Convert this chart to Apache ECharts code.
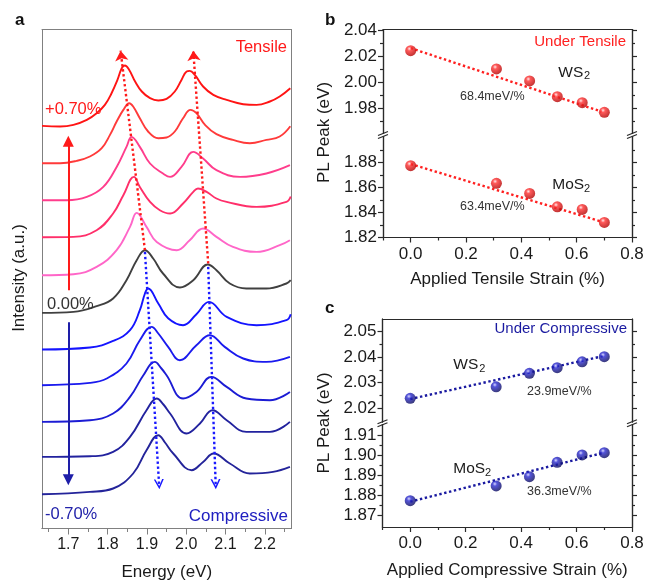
<!DOCTYPE html>
<html><head><meta charset="utf-8">
<script src="https://cdn.jsdelivr.net/npm/echarts@6/dist/echarts.min.js"></script>
<style>html,body{margin:0;padding:0;background:#fff}#c{width:647px;height:580px}</style>
</head><body><div id="c"></div>
<script>
// ---------- tick values ----------
const energyTickValues = [1.7, 1.8, 1.9, 2.0, 2.1, 2.2];
const energyMinorTickValues = [1.65, 1.75, 1.85, 1.95, 2.05, 2.15, 2.25];
const strainTickValues = [0, 0.2, 0.4, 0.6, 0.8];
const strainMinorTickValues = [-0.1, 0.1, 0.3, 0.5, 0.7];
const peakTicksBUpper = [1.98, 2.00, 2.02, 2.04];
const peakMinorBUpper = [1.97, 1.99, 2.01, 2.03];
const peakTicksBLower = [1.82, 1.84, 1.86, 1.88];
const peakMinorBLower = [1.83, 1.85, 1.87, 1.89];
const peakTicksCUpper = [2.02, 2.03, 2.04, 2.05];
const peakMinorCUpper = [2.025, 2.035, 2.045];
const peakTicksCLower = [1.87, 1.88, 1.89, 1.90, 1.91];
const peakMinorCLower = [1.875, 1.885, 1.895, 1.905];

// ---------- panel a: stacked PL spectra [energy (eV), intensity (a.u., offset)] ----------
const strainLabels = ['+0.70%', '+0.62%', '+0.53%', '+0.43%', '+0.31%', '0.00%', '-0.31%', '-0.43%', '-0.53%', '-0.62%', '-0.70%'];
const specP070 = [[1.633,402.6],[1.679,402],[1.713,403.6],[1.747,408.6],[1.772,415.3],[1.793,423.6],[1.810,435.3],[1.825,448.6],[1.836,460.3],[1.844,463],[1.855,458.6],[1.870,447],[1.887,437],[1.908,430.3],[1.929,428],[1.950,429.6],[1.971,437],[1.988,448.6],[2.001,457],[2.009,457.6],[2.022,453.6],[2.043,442],[2.069,433.6],[2.103,428.6],[2.145,424.3],[2.179,423.6],[2.213,427],[2.238,432],[2.265,440.3]];
const specP062 = [[1.633,365.3],[1.679,365.3],[1.721,367.6],[1.755,372],[1.785,380.3],[1.806,393.6],[1.823,407],[1.840,418.6],[1.855,425.3],[1.865,422],[1.882,410.3],[1.903,397],[1.929,390.3],[1.950,391],[1.971,397],[1.992,410.3],[2.011,418.6],[2.026,415.3],[2.048,403.6],[2.077,394.3],[2.119,388.6],[2.162,385.3],[2.204,388.6],[2.238,392],[2.265,402.3]];
const specP053 = [[1.633,328.3],[1.696,328.3],[1.747,331.6],[1.789,341.6],[1.823,361.6],[1.848,381.6],[1.861,391.6],[1.882,381.6],[1.908,365],[1.941,355],[1.959,351.6],[1.988,361.6],[2.018,376.6],[2.043,370],[2.077,358.3],[2.137,351.6],[2.204,355],[2.264,363.3]];
const specP043 = [[1.633,291.3],[1.713,291.6],[1.772,298.3],[1.814,315],[1.840,333.3],[1.867,351.6],[1.882,341.6],[1.908,326.6],[1.933,318.3],[1.959,315],[1.992,325],[2.018,336.6],[2.030,340],[2.052,336.6],[2.077,330],[2.103,326.6],[2.179,321.6],[2.255,326.6],[2.266,332]];
const specP031 = [[1.633,253.3],[1.713,254.3],[1.772,261.6],[1.823,278.3],[1.857,301.6],[1.874,315.6],[1.899,301.6],[1.925,286.6],[1.976,278.3],[2.009,288.3],[2.043,300],[2.077,291.6],[2.119,281.6],[2.179,276.6],[2.238,283.3],[2.264,288.3]];
const spec000 = [[1.633,215.6],[1.713,216.6],[1.772,222.3],[1.814,230],[1.848,248.3],[1.874,268.3],[1.895,278.3],[1.916,270],[1.941,255],[1.984,241],[2.018,248.3],[2.055,264],[2.077,258.3],[2.111,245],[2.153,240],[2.204,240],[2.255,245],[2.266,248.3]];
const specN031 = [[1.633,179],[1.755,181],[1.814,187.6],[1.857,198.3],[1.882,218.3],[1.895,235],[1.903,240],[1.929,225],[1.954,210.3],[1.992,203.3],[2.026,214.3],[2.058,226.6],[2.103,211.6],[2.179,203.3],[2.255,208.3],[2.266,214.3]];
const specN043 = [[1.633,143.3],[1.755,145.6],[1.798,150],[1.848,165],[1.882,188.3],[1.912,201.6],[1.929,195],[1.954,181.6],[1.984,168.3],[2.026,183.3],[2.060,193.3],[2.098,181.6],[2.145,170],[2.204,166.6],[2.264,171.6]];
const specN053 = [[1.633,106.6],[1.755,108.3],[1.814,115],[1.857,131.6],[1.891,153.3],[1.920,166.6],[1.937,160],[1.950,153.3],[1.992,130],[2.026,136.6],[2.064,151.6],[2.103,141.6],[2.153,130],[2.213,128.3],[2.264,136.6]];
const specN062 = [[1.633,71.6],[1.755,72.3],[1.814,76.6],[1.857,91.6],[1.899,118.3],[1.925,130],[1.942,124],[1.959,115],[2.001,95],[2.035,105],[2.067,118.3],[2.103,108.3],[2.153,96.6],[2.213,96.6],[2.264,106.6]];
const specN070 = [[1.633,34.3],[1.755,36.6],[1.814,40],[1.865,55],[1.899,78.3],[1.929,93.3],[1.946,86],[1.967,75],[2.014,58.3],[2.043,66.6],[2.070,75],[2.111,65],[2.162,55],[2.221,56.6],[2.264,61.6]];

// guide lines (peak shift arrows) and strain direction arrows, [energy, intensity]
const guideTensileA = [[1.895, 278.3], [1.833, 477.8]];
const guideTensileB = [[2.056, 265], [2.018, 477.8]];
const guideCompA = [[1.895, 276.6], [1.931, 44.3]];
const guideCompB = [[2.056, 261.6], [2.075, 44.3]];
const arrowTensile = [[1.7, 238.3], [1.7, 387.3]];
const arrowComp = [[1.7, 206.3], [1.7, 48.8]];

// ---------- panels b, c: PL peak vs strain ----------
const strain = [0, 0.31, 0.43, 0.53, 0.62, 0.70];
const ws2Tensile = [2.0245, 2.0104, 2.0011, 1.9890, 1.9843, 1.9769];
const mos2Tensile = [1.8773, 1.8632, 1.8552, 1.8445, 1.8424, 1.8320];
const ws2Compressive = [2.0239, 2.0284, 2.0337, 2.0359, 2.0382, 2.0402];
const mos2Compressive = [1.8775, 1.8849, 1.8895, 1.8967, 1.9004, 1.9015];
const ws2TensileFit = [[0, 2.0265], [0.69, 1.9774]];
const mos2TensileFit = [[0, 1.8786], [0.685, 1.8330]];
const ws2CompressiveFit = [[0, 2.0236], [0.698, 2.0405]];
const mos2CompressiveFit = [[0, 1.8770], [0.698, 1.9015]];

// ---------- build ----------
const FONT = '"Liberation Sans", Arial, Helvetica, sans-serif';
const spectra = [specP070, specP062, specP053, specP043, specP031, spec000, specN031, specN043, specN053, specN062, specN070];
const specColors = ['#ff1414', '#ff3a3a', '#ff3d8c', '#ff2f6a', '#ff66c8', '#404040', '#1414ff', '#1a1aee', '#1c1cd4', '#22229e', '#24249a'];

function ax(o) {
  const a = {
    type: 'value', gridIndex: o.grid, position: o.pos, min: o.min, max: o.max,
    axisLine: {show: true, onZero: false, lineStyle: {color: o.color, width: o.lw || 1}},
    axisTick: {show: !!o.ticks, inside: false, length: o.tickLen || 5, customValues: o.ticks,
      lineStyle: {color: o.color, width: o.lw || 1}},
    axisLabel: {show: !!o.labels, customValues: o.labels, margin: o.margin || 6,
      formatter: v => Number(v).toFixed(o.dec || 1), fontSize: o.fs || 17, color: '#1a1a1a', fontFamily: FONT},
    splitLine: {show: false}, minorTick: {show: false}, axisPointer: {show: false}
  };
  if (o.name) {
    a.name = o.name; a.nameLocation = 'middle'; a.nameGap = o.nameGap;
    a.nameTextStyle = {fontSize: 17, color: '#1a1a1a', fontFamily: FONT};
  }
  return a;
}

const GA = '#808080', GB = '#2a2a2a';
const xAxis = [
  ax({grid: 0, pos: 'bottom', min: 1.633, max: 2.268, color: GA, ticks: energyTickValues, labels: energyTickValues, tickLen: 6, fs: 16, dec: 1, margin: 8, name: 'Energy (eV)', nameGap: 35.5}),
  ax({grid: 0, pos: 'bottom', min: 1.633, max: 2.268, color: GA, ticks: energyMinorTickValues, tickLen: 3.5}),
  ax({grid: 0, pos: 'top', min: 1.633, max: 2.268, color: GA}),
  ax({grid: 1, pos: 'top', min: -0.1, max: 0.8, color: GB, lw: 1.2}),
  ax({grid: 2, pos: 'bottom', min: -0.1, max: 0.8, color: GB, lw: 1.2, ticks: strainTickValues, labels: strainTickValues, tickLen: 5, dec: 1, margin: 8, name: 'Applied Tensile Strain (%)', nameGap: 33.5}),
  ax({grid: 2, pos: 'bottom', min: -0.1, max: 0.8, color: GB, lw: 1.2, ticks: strainMinorTickValues, tickLen: 3}),
  ax({grid: 3, pos: 'top', min: -0.1, max: 0.8, color: GB, lw: 1.2}),
  ax({grid: 4, pos: 'bottom', min: -0.1, max: 0.8, color: GB, lw: 1.2, ticks: strainTickValues, labels: strainTickValues, tickLen: 5, dec: 1, margin: 8, name: 'Applied Compressive Strain (%)', nameGap: 34.5}),
  ax({grid: 4, pos: 'bottom', min: -0.1, max: 0.8, color: GB, lw: 1.2, ticks: strainMinorTickValues, tickLen: 3})
];

function ySet(grid, min, max, major, minor) {
  return [
    ax({grid, pos: 'left', min, max, color: GB, lw: 1.2, ticks: major, labels: major, tickLen: 5, dec: 2, margin: 6}),
    ax({grid, pos: 'left', min, max, color: GB, lw: 1.2, ticks: minor, tickLen: 3}),
    ax({grid, pos: 'right', min, max, color: GB, lw: 1.2, ticks: major, tickLen: 5}),
    ax({grid, pos: 'right', min, max, color: GB, lw: 1.2, ticks: minor, tickLen: 3})
  ];
}
const yAxis = [
  ax({grid: 0, pos: 'left', min: 0, max: 499, color: GA}),
  ax({grid: 0, pos: 'right', min: 0, max: 499, color: GA}),
  ...ySet(1, 1.9605, 2.0409, peakTicksBUpper, peakMinorBUpper),   // 2-5
  ...ySet(2, 1.82, 1.9006, peakTicksBLower, peakMinorBLower),      // 6-9
  ...ySet(3, 2.0146, 2.055, peakTicksCUpper, peakMinorCUpper),     // 10-13
  ...ySet(4, 1.86435, 1.9156, peakTicksCLower, peakMinorCLower)    // 14-17
];

const grid = [
  {left: 42, top: 29.5, width: 249.5, height: 499},
  {left: 383, top: 29.5, width: 249, height: 104},
  {left: 383, top: 136.5, width: 249, height: 101},
  {left: 382.5, top: 319, width: 249.5, height: 103},
  {left: 382.5, top: 424.5, width: 249.5, height: 102.5}
].map(g => Object.assign(g, {containLabel: false, outerBoundsMode: 'none', show: false}));

const series = [];
spectra.forEach((d, i) => series.push({
  name: strainLabels[i], type: 'line', xAxisIndex: 0, yAxisIndex: 0, data: d,
  showSymbol: false, symbol: 'none', smooth: 0.42, silent: true, z: 2,
  lineStyle: {color: specColors[i], width: 1.9}
}));

const chevron = 'path://M0,10 L5,0 L10,10 L8.4,10 L5,3.2 L1.6,10 Z';
function guide(coords, color, sym, size, dotted) {
  return {
    type: 'lines', coordinateSystem: 'cartesian2d', xAxisIndex: 0, yAxisIndex: 0, z: 4, silent: true,
    symbol: ['none', sym], symbolSize: size,
    lineStyle: {color, width: dotted ? 2.4 : 2, type: dotted ? [2.4, 2.6] : 'solid', opacity: 1, curveness: 0},
    data: [{coords}]
  };
}
series.push(guide(guideTensileA, '#ff1a1a', 'arrow', 10, true));
series.push(guide(guideTensileB, '#ff1a1a', 'arrow', 10, true));
series.push(guide(guideCompA, '#1a1aff', chevron, 10, true));
series.push(guide(guideCompB, '#1a1aff', chevron, 10, true));
series.push(guide(arrowTensile, '#ff1a1a', 'triangle', 11, false));
series.push(guide(arrowComp, '#1e1ea8', 'triangle', 11, false));

const redSphere = {type: 'radial', x: 0.38, y: 0.32, r: 0.7, colorStops: [
  {offset: 0, color: '#ffe4e4'}, {offset: 0.28, color: '#ff3030'}, {offset: 1, color: '#b00000'}]};
const blueSphere = {type: 'radial', x: 0.38, y: 0.32, r: 0.7, colorStops: [
  {offset: 0, color: '#d0d0ff'}, {offset: 0.28, color: '#2a2ad0'}, {offset: 1, color: '#0a0a5a'}]};
const zip = (xs, ys) => xs.map((x, i) => [x, ys[i]]);

function fitSeries(xi, yi, data, color) {
  return {type: 'line', xAxisIndex: xi, yAxisIndex: yi, data, symbol: 'none', showSymbol: false, silent: true, z: 2,
    lineStyle: {color, width: 2.4, type: [2.4, 2.6]}};
}
function dotSeries(xi, yi, data, color) {
  return {type: 'scatter', xAxisIndex: xi, yAxisIndex: yi, data, symbol: 'circle', symbolSize: 11, silent: true, z: 3,
    itemStyle: {color}};
}
series.push(fitSeries(3, 2, ws2TensileFit, '#ff2020'), dotSeries(3, 2, zip(strain, ws2Tensile), redSphere));
series.push(fitSeries(4, 6, mos2TensileFit, '#ff2020'), dotSeries(4, 6, zip(strain, mos2Tensile), redSphere));
series.push(fitSeries(6, 10, ws2CompressiveFit, '#1a1aa0'), dotSeries(6, 10, zip(strain, ws2Compressive), blueSphere));
series.push(fitSeries(7, 14, mos2CompressiveFit, '#1a1aa0'), dotSeries(7, 14, zip(strain, mos2Compressive), blueSphere));

function txt(text, x, y, size, color, align, opts) {
  opts = opts || {};
  return {type: 'text', x, y, rotation: opts.rot || 0, silent: true, z: 10,
    style: {text, fill: color, font: (opts.bold ? 'bold ' : '') + size + 'px ' + FONT,
      align: align, textAlign: align, verticalAlign: 'middle', textVerticalAlign: 'middle'}};
}
function brk(x, y) {
  const ls = {stroke: GB, lineWidth: 1.2};
  return [
    {type: 'line', silent: true, z: 10, shape: {x1: x - 5, y1: y + 0.5, x2: x + 5, y2: y - 3.5}, style: ls},
    {type: 'line', silent: true, z: 10, shape: {x1: x - 5, y1: y + 3.5, x2: x + 5, y2: y - 0.5}, style: ls}
  ];
}
const graphic = [
  txt('a', 15, 20, 17, '#111', 'left', {bold: true}),
  txt('b', 325, 20.7, 17, '#111', 'left', {bold: true}),
  txt('c', 325, 308, 17, '#111', 'left', {bold: true}),
  txt('Intensity (a.u.)', 19.5, 278, 17, '#1a1a1a', 'center', {rot: Math.PI / 2}),
  txt('PL Peak (eV)', 324.5, 132.5, 17, '#1a1a1a', 'center', {rot: Math.PI / 2}),
  txt('PL Peak (eV)', 324.5, 423, 17, '#1a1a1a', 'center', {rot: Math.PI / 2}),
  txt('Tensile', 287, 47.5, 16.5, '#ff1a1a', 'right'),
  txt('+0.70%', 45, 109, 16.5, '#ff1a1a', 'left'),
  txt('0.00%', 47, 304, 16.5, '#333333', 'left'),
  txt('-0.70%', 45, 514, 16.5, '#2222aa', 'left'),
  txt('Compressive', 288, 516.5, 17, '#2020c0', 'right'),
  txt('Under Tensile', 626, 41.5, 15, '#ff2020', 'right'),
  txt('WS', 558.3, 72.5, 15.5, '#1a1a1a', 'left'),
  txt('2', 584, 76, 11, '#1a1a1a', 'left'),
  txt('68.4meV/%', 460, 97, 12.5, '#333333', 'left'),
  txt('MoS', 552.3, 184.7, 15.5, '#1a1a1a', 'left'),
  txt('2', 584, 188.5, 11, '#1a1a1a', 'left'),
  txt('63.4meV/%', 460, 207, 12.5, '#333333', 'left'),
  txt('Under Compressive', 627, 329, 15, '#1a1aa0', 'right'),
  txt('WS', 453.3, 365, 15.5, '#1a1a1a', 'left'),
  txt('2', 479.3, 368.5, 11, '#1a1a1a', 'left'),
  txt('23.9meV/%', 527, 392, 12.5, '#333333', 'left'),
  txt('MoS', 453.3, 469, 15.5, '#1a1a1a', 'left'),
  txt('2', 485, 472.7, 11, '#1a1a1a', 'left'),
  txt('36.3meV/%', 527, 492, 12.5, '#333333', 'left'),
  ...brk(383, 135), ...brk(632, 135), ...brk(382.5, 423.3), ...brk(632, 423.3)
];

const chart = echarts.init(document.getElementById('c'), null, {renderer: 'canvas'});
chart.setOption({
  animation: false, backgroundColor: '#ffffff',
  textStyle: {fontFamily: FONT},
  grid, xAxis, yAxis, series, graphic
});
</script></body></html>
